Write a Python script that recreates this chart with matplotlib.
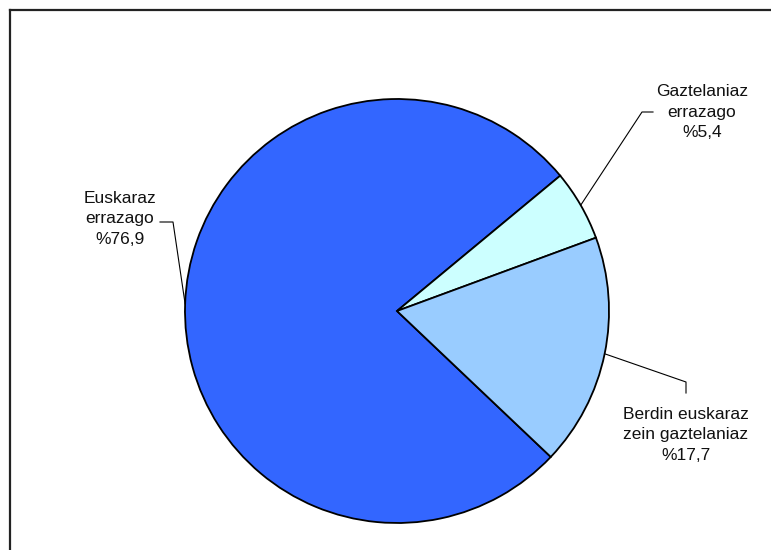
import numpy as np
import matplotlib
matplotlib.use('Agg')
import matplotlib.pyplot as plt
from matplotlib.lines import Line2D

plt.rcParams['font.family'] = ['Liberation Sans', 'DejaVu Sans']

# datuak
labels = ['Euskaraz\nerrazago', 'Gaztelaniaz\nerrazago', 'Berdin euskaraz\nzein gaztelaniaz']
values = [76.9, 5.4, 17.7]
pct_text = ['%76,9', '%5,4', '%17,7']
colors = ['#3366FF', '#CCFFFF', '#99CCFF']

W, H = 771, 550
fig = plt.figure(figsize=(W / 100, H / 100), dpi=100)

# pie centre (397, 311) px, radius 212 px
cx, cy, r = 397, 311, 212
ax = fig.add_axes([(cx - r) / W, (H - cy - r) / H, 2 * r / W, 2 * r / H])

wedges, _ = ax.pie(values, colors=colors, startangle=-43.5, counterclock=False,
                   radius=1, wedgeprops={'edgecolor': 'black', 'linewidth': 1.3})
ax.set_xlim(-1, 1)
ax.set_ylim(-1, 1)
ax.set_aspect('equal')
ax.axis('off')

def px(x, y):
    return (x - cx) / r, (cy - y) / r

# etiketak: (ukondoa, amaiera, testuaren erdia) pixeletan
label_pos = [
    ((173, 222), (160, 222), (120, 219)),
    ((642, 112), (653, 112), (702, 112)),
    ((686, 382), (686, 393), (686, 435)),
]

for w, lab, pct, (elb, end, txt) in zip(wedges, labels, pct_text, label_pos):
    ang = np.deg2rad((w.theta1 + w.theta2) / 2)
    x0, y0 = np.cos(ang), np.sin(ang)
    ex, ey = px(*elb)
    nx, ny = px(*end)
    ax.plot([x0, ex, nx], [y0, ey, ny], color='black', lw=0.8, clip_on=False)
    tx, ty = px(*txt)
    ax.text(tx, ty, lab + '\n' + pct, ha='center', va='center', fontsize=12.5,
            linespacing=1.42, color='#111111', clip_on=False)

# kanpoko markoa (goian eta ezkerrean bakarrik ikusten da)
fig.add_artist(Line2D([9.5 / W, 1.01], [1 - 9.5 / H, 1 - 9.5 / H],
                      transform=fig.transFigure, color='#222222', lw=1.6))
fig.add_artist(Line2D([9.5 / W, 9.5 / W], [1 - 9.5 / H, -0.01],
                      transform=fig.transFigure, color='#222222', lw=1.6))

fig.savefig('out.png', dpi=100)
